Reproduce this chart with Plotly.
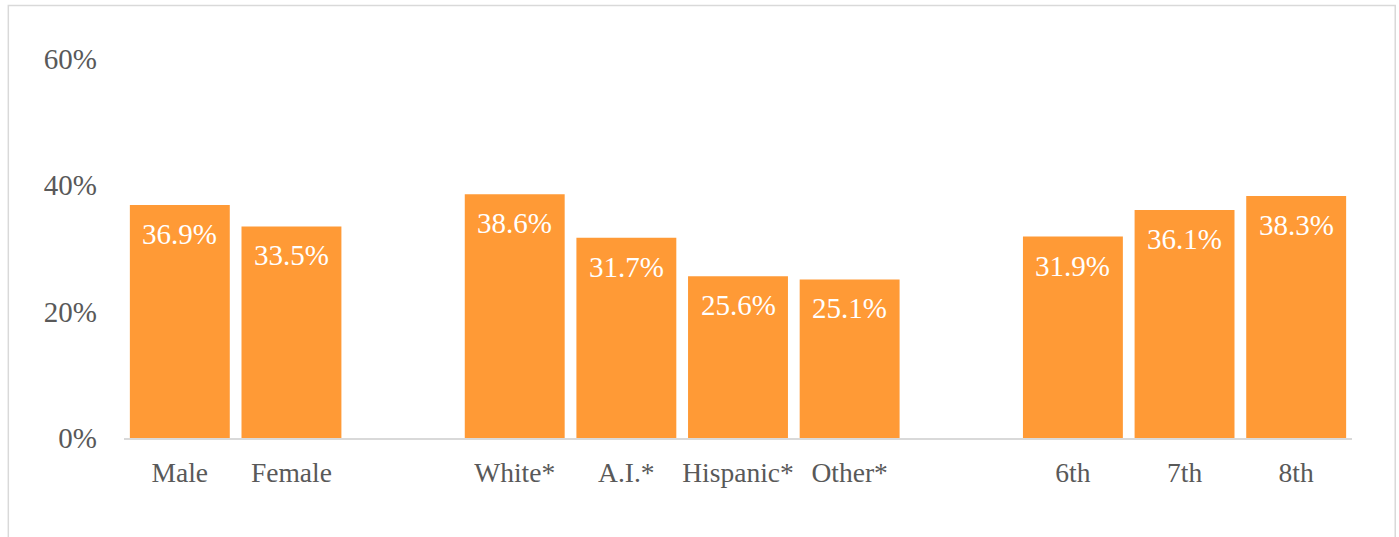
import plotly.graph_objects as go

# Share of students by group; blank categories separate the three groups
categories = ["Male", "Female", " ", "White*", "A.I.*", "Hispanic*", "Other*", "  ", "6th", "7th", "8th"]
values = [36.9, 33.5, None, 38.6, 31.7, 25.6, 25.1, None, 31.9, 36.1, 38.3]
y_ticks = [0, 20, 40, 60]
y_tick_labels = ["0%", "20%", "40%", "60%"]

BAR_COLOR = "#FF9A36"
TEXT_GRAY = "#595959"
FONT = "Liberation Serif"

fig = go.Figure(
    go.Bar(
        x=categories,
        y=values,
        marker=dict(color=BAR_COLOR, line=dict(width=0)),
        hoverinfo="skip",
    )
)

# Value labels just below the top of each bar
for cat, v in zip(categories, values):
    if v is None:
        continue
    fig.add_annotation(
        x=cat, y=v, text=f"{v:.1f}%", showarrow=False,
        yanchor="middle", yshift=-29,
        font=dict(family=FONT, size=29, color="white"),
    )

# Light frame around the whole chart
fig.add_shape(
    type="rect", xref="paper", yref="paper",
    x0=-0.0942, x1=1.0352, y0=-0.4, y1=1.1412,
    line=dict(color="#D9D9D9", width=1.5), fillcolor="rgba(0,0,0,0)",
)

fig.update_layout(
    width=1399, height=537,
    margin=dict(l=123.5, r=47, t=59, b=99),
    paper_bgcolor="white", plot_bgcolor="white",
    bargap=0.105,
    showlegend=False,
    font=dict(family=FONT, color=TEXT_GRAY),
)
fig.update_xaxes(
    type="category",
    showgrid=False,
    showline=True, linecolor="#D9D9D9", linewidth=1.5,
    ticks="", tickfont=dict(family=FONT, size=27.5, color=TEXT_GRAY),
    ticklabelstandoff=9,
)
fig.update_yaxes(
    range=[0, 60],
    tickvals=y_ticks, ticktext=y_tick_labels,
    showgrid=False, zeroline=False, showline=False,
    ticks="", tickfont=dict(family=FONT, size=29, color=TEXT_GRAY),
    ticklabelstandoff=26,
)

fig.write_html("out.html")
